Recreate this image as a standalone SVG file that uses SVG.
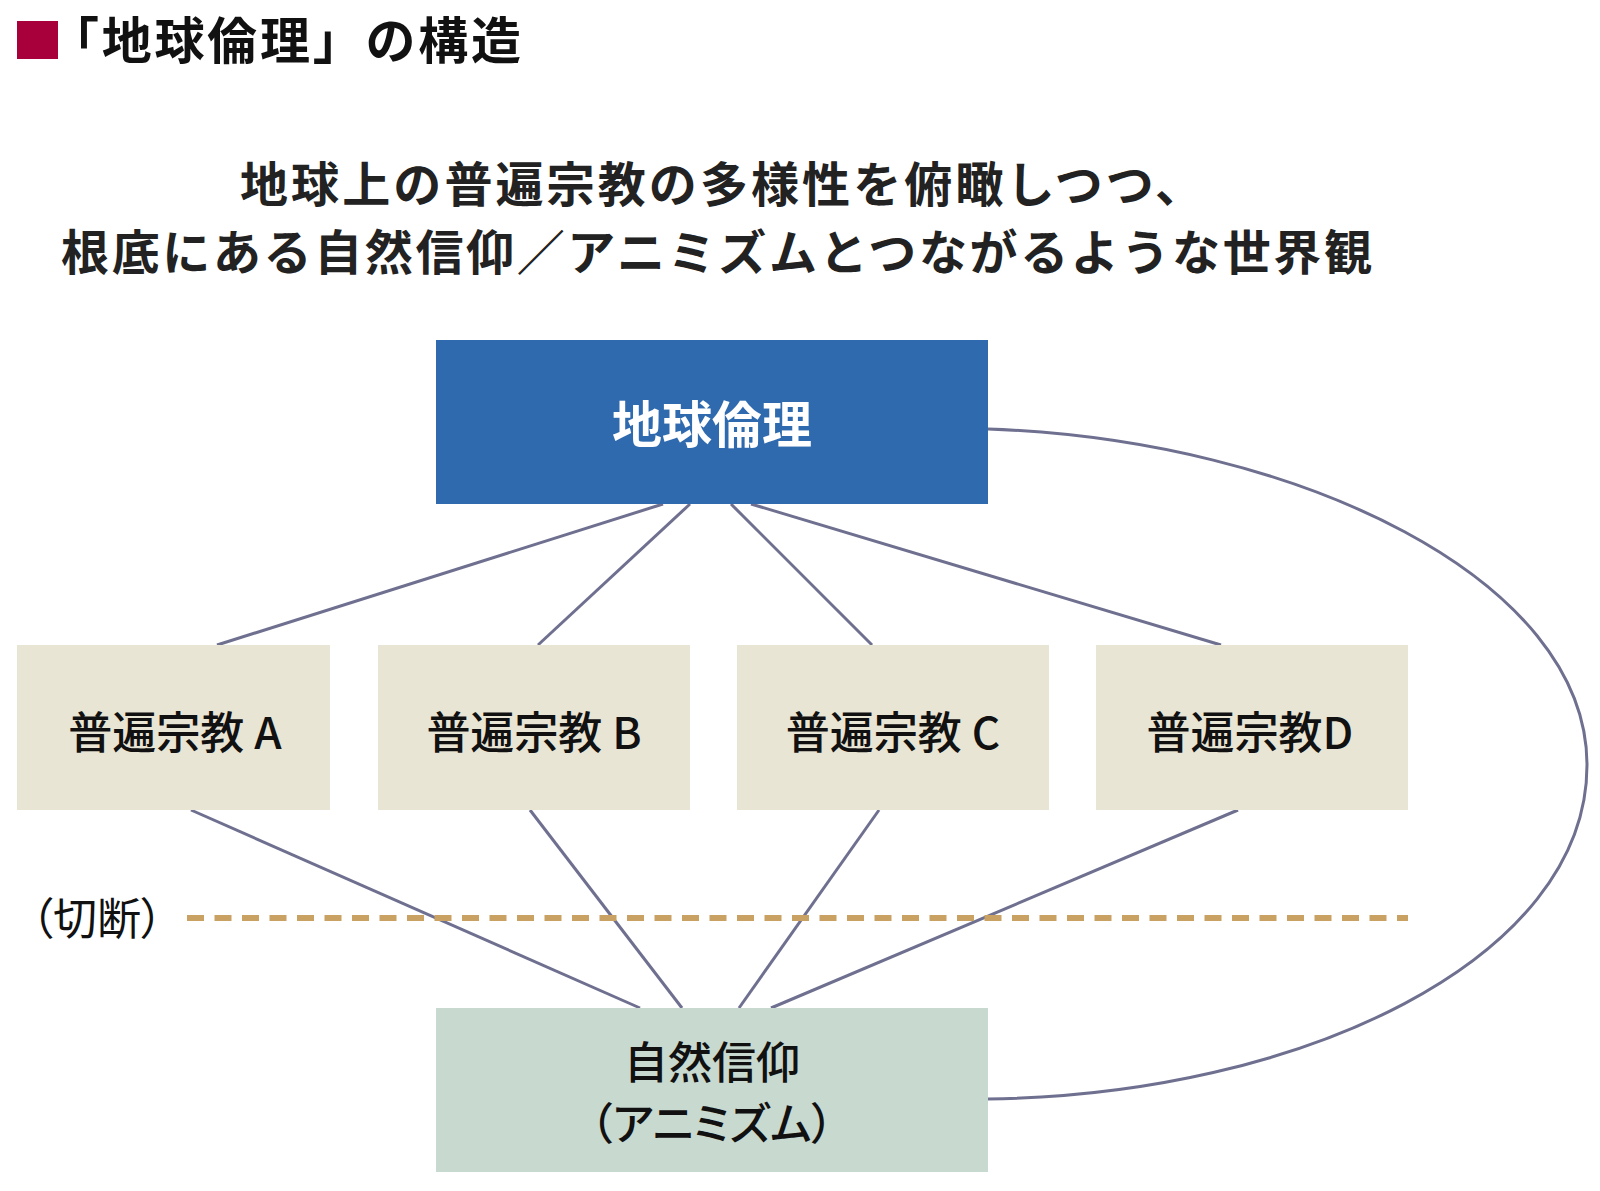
<svg xmlns="http://www.w3.org/2000/svg" width="1600" height="1191" viewBox="0 0 1600 1191">
<style>
text{font-family:"Noto Sans CJK JP","Noto Sans",sans-serif;}
.title{font-size:50px;font-weight:700;fill:#111;}
.sub{font-size:48px;font-weight:700;fill:#222;}
.lbl{font-size:44px;font-weight:500;fill:#111;text-anchor:middle;font-feature-settings:"palt";}
.conn{stroke:#6f7090;stroke-width:3;fill:none;}
.rel{fill:#e9e5d4;}
</style>
<rect x="17" y="21" width="41" height="38" fill="#a8003a"/>
<text class="title" x="49" y="59" textLength="472" lengthAdjust="spacing">「地球倫理」の構造</text>
<text class="sub" x="240" y="202" textLength="963" lengthAdjust="spacing">地球上の普遍宗教の多様性を俯瞰しつつ、</text>
<text class="sub" x="61" y="270" textLength="1311" lengthAdjust="spacing">根底にある自然信仰／アニミズムとつながるような世界観</text>
<g id="connectors">
<line class="conn" x1="663" y1="504" x2="217" y2="645"/>
<line class="conn" x1="690" y1="504" x2="538" y2="645"/>
<line class="conn" x1="731" y1="504" x2="872" y2="645"/>
<line class="conn" x1="751" y1="504" x2="1221" y2="645"/>
<line class="conn" x1="191" y1="810" x2="640" y2="1008"/>
<line class="conn" x1="530" y1="810" x2="682" y2="1008"/>
<line class="conn" x1="879" y1="810" x2="739" y2="1008"/>
<line class="conn" x1="1238" y1="810" x2="771" y2="1008"/>
<path class="conn" d="M988,429 C1300,440 1587,580 1587,765 C1587,960 1300,1095 988,1099"/>
</g>
<g id="cut">
<line x1="187" y1="918" x2="1408" y2="918" stroke="#c9a162" stroke-width="6" stroke-dasharray="17,10.5"/>
<text x="31" y="935" font-size="44" fill="#111" style="font-feature-settings:'palt'" textLength="132" lengthAdjust="spacingAndGlyphs">（切断）</text>
</g>
<g id="node-earth-ethics">
<rect x="436" y="340" width="552" height="164" fill="#2e6aad"/>
<text class="lbl" x="712" y="443" style="font-size:50px;font-weight:700;fill:#fff">地球倫理</text>
</g>
<g id="node-a">
<rect class="rel" x="17" y="645" width="313" height="165"/>
<text class="lbl" x="175" y="749">普遍宗教 A</text>
</g>
<g id="node-b">
<rect class="rel" x="378" y="645" width="312" height="165"/>
<text class="lbl" x="534" y="749">普遍宗教 B</text>
</g>
<g id="node-c">
<rect class="rel" x="737" y="645" width="312" height="165"/>
<text class="lbl" x="893" y="749">普遍宗教 C</text>
</g>
<g id="node-d">
<rect class="rel" x="1096" y="645" width="312" height="165"/>
<text class="lbl" x="1250" y="749">普遍宗教D</text>
</g>
<g id="node-nature">
<rect x="436" y="1008" width="552" height="164" fill="#c8d9d0"/>
<text class="lbl" x="712" y="1079">自然信仰</text>
<text class="lbl" x="712" y="1140">（アニミズム）</text>
</g>
</svg>
